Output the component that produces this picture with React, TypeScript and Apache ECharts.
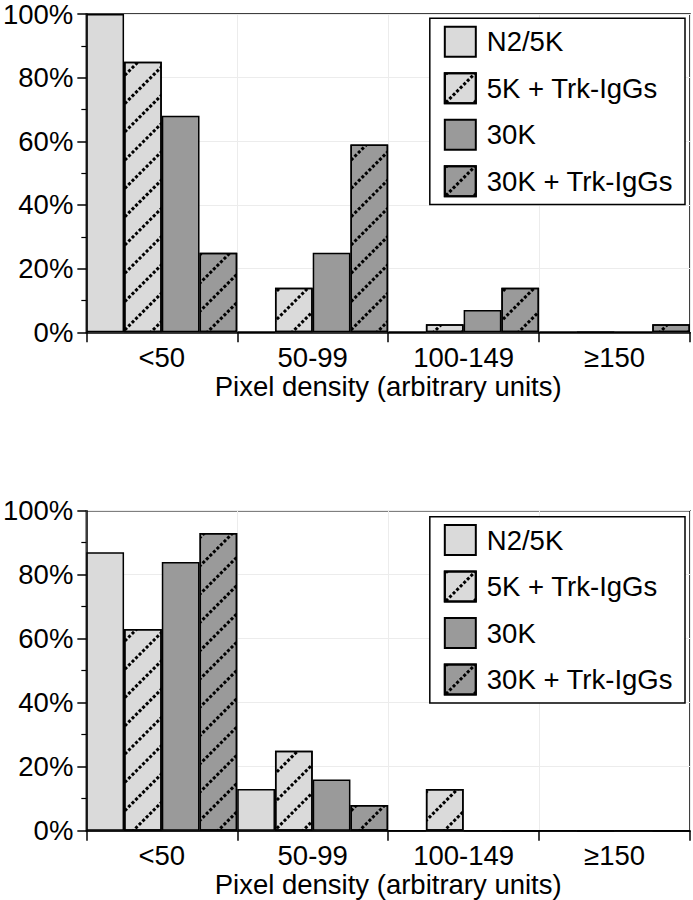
import React, { useEffect, useRef } from "react";
import * as echarts from "echarts";

const categories = ["<50", "50-99", "100-149", "≥150"];
const seriesNames = ["N2/5K", "5K + Trk-IgGs", "30K", "30K + Trk-IgGs"];
const yTicks = [0, 20, 40, 60, 80, 100];

// Top panel (percent of cells)
const topN2 = [100, 0, 0, 0];
const top5KTrk = [85, 14, 2.5, 0];
const top30K = [68, 25, 7, 0];
const top30KTrk = [25, 59, 14, 2.5];

// Bottom panel
const botN2 = [87, 13, 0, 0];
const bot5KTrk = [63, 25, 13, 0];
const bot30K = [84, 16, 0, 0];
const bot30KTrk = [93, 8, 0, 0];

const FONT = "'Liberation Sans', Arial, Helvetica, sans-serif";
const FS = 27.5;
const LIGHT = "#dadada";
const DARK = "#9a9a9a";

const hatch = {
  symbol: "rect",
  symbolSize: 1,
  color: "#000",
  dashArrayX: [3, 1.5],
  dashArrayY: [2.5, 16.5],
  rotation: -Math.PI / 4,
};

const fills = [LIGHT, LIGHT, DARK, DARK];
const hatched = [false, true, false, true];

export default function App() {
  const ref = useRef<HTMLDivElement>(null);
  useEffect(() => {
    if (!ref.current) return;
    const chart = echarts.init(ref.current, undefined, { renderer: "svg" });
    const grids = [
      { left: 80, top: 12.3, width: 610, height: 320 },
      { left: 80, top: 510.7, width: 610, height: 320 },
    ];
    const data = [
      [topN2, top5KTrk, top30K, top30KTrk],
      [botN2, bot5KTrk, bot30K, bot30KTrk],
    ];
    const xAxes = grids.map((_, i) => ({
      type: "category",
      gridIndex: i,
      data: categories,
      boundaryGap: true,
      axisLine: { lineStyle: { color: "#000", width: 1.5 } },
      axisTick: { show: true, length: 10, interval: 0, lineStyle: { color: "#000", width: 1.5 } },
      axisLabel: { color: "#000", fontSize: FS, fontFamily: FONT, margin: 11, interval: 0 },
      splitLine: { show: true, interval: 0, lineStyle: { color: "#ececec", width: 1 } },
      name: "Pixel density (arbitrary units)",
      nameLocation: "middle",
      nameGap: 40,
      nameTextStyle: { color: "#000", fontSize: FS, fontFamily: FONT },
    }));
    const yAxes = grids.map((_, i) => ({
      type: "value",
      gridIndex: i,
      min: yTicks[0],
      max: yTicks[yTicks.length - 1],
      interval: 20,
      axisLine: { show: true, lineStyle: { color: "#000", width: 1.5 } },
      axisTick: { show: true, length: 9, lineStyle: { color: "#000", width: 1.5 } },
      minorTick: { show: true, splitNumber: 2, length: 5, lineStyle: { color: "#000", width: 1.2 } },
      axisLabel: { color: "#000", fontSize: FS, fontFamily: FONT, margin: 13, formatter: "{value}%" },
      splitLine: { show: true, lineStyle: { color: "#ececec", width: 1 } },
    }));
    const series: any[] = [];
    data.forEach((panel, gi) => {
      panel.forEach((vals, si) => {
        series.push({
          type: "bar",
          name: seriesNames[si],
          xAxisIndex: gi,
          yAxisIndex: gi,
          data: vals,
          barGap: "0%",
          barCategoryGap: "0%",
          itemStyle: {
            color: fills[si],
            borderColor: "#000",
            borderWidth: 1.5,
            decal: hatched[si] ? hatch : undefined,
          },
        });
      });
    });
    const legends = grids.map((g) => ({
      orient: "vertical",
      right: 8,
      top: g.top + 6,
      itemWidth: 31,
      itemHeight: 30,
      itemGap: 14.5,
      padding: [7.4, 12, 7.4, 14],
      backgroundColor: "#fff",
      borderColor: "#000",
      borderWidth: 1.5,
      borderRadius: 0,
      data: seriesNames.map((n) => ({ name: n, icon: "rect" })),
      textStyle: { color: "#000", fontSize: FS, fontFamily: FONT, padding: [0, 0, 0, 6] },
      selectedMode: false,
    }));
    chart.setOption({
      animation: false,
      backgroundColor: "#fff",
      grid: grids.map((g) => ({ ...g, show: true, borderColor: "#000", borderWidth: 1.5, backgroundColor: "transparent" })),
      xAxis: xAxes,
      yAxis: yAxes,
      legend: legends,
      series,
    });
    return () => chart.dispose();
  }, []);
  return (
    <div
      ref={ref}
      style={{ position: "fixed", left: 0, top: 0, width: 693, height: 900 }}
    />
  );
}
